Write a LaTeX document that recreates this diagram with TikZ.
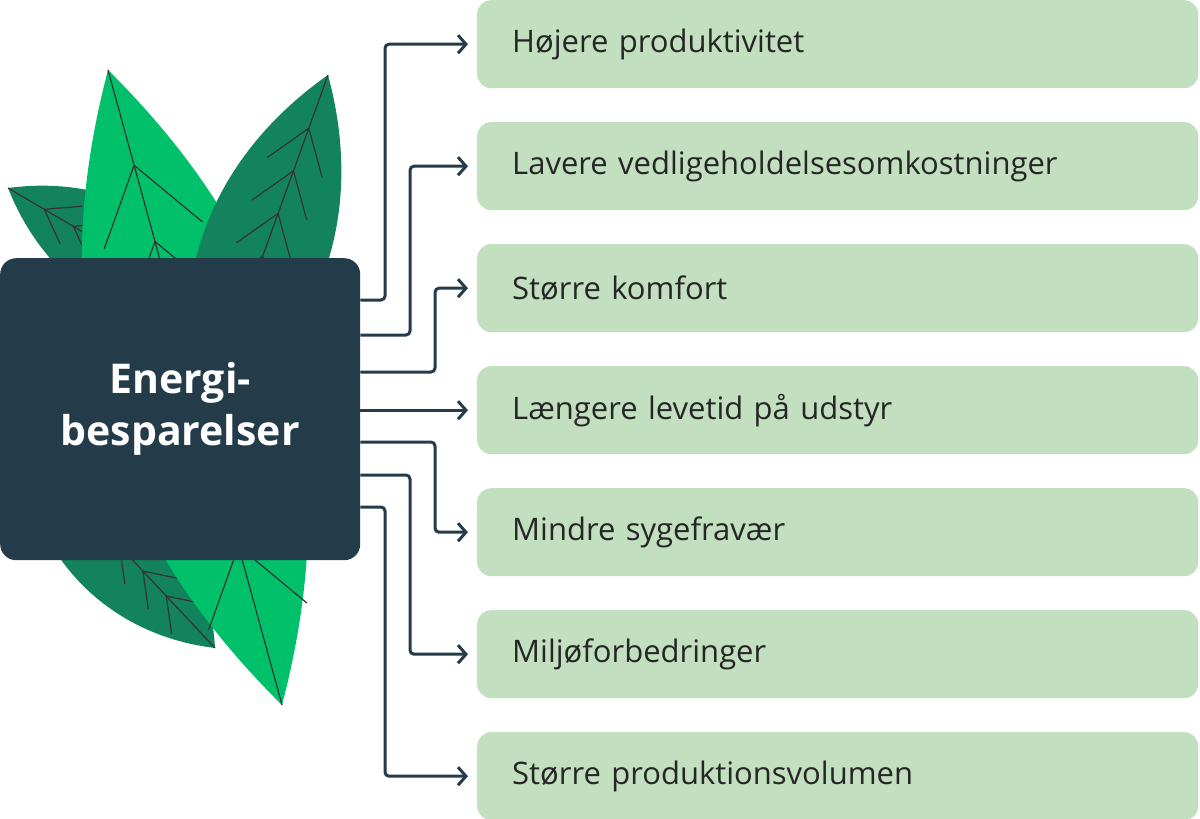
\documentclass[tikz,border=0pt]{standalone}
\usepackage{fontspec}
\setmainfont{Open Sans}
\usetikzlibrary{calc, arrows.meta, positioning}

\definecolor{navy}{HTML}{243B4A}
\definecolor{mint}{HTML}{C2DFBF}
\definecolor{leafdark}{HTML}{13835D}
\definecolor{leafbright}{HTML}{00C16A}

\tikzset{
  benefit/.style={fill=mint, rounded corners=14pt, minimum width=721pt, minimum height=88pt,
    anchor=north west, text=black!85, font=\fontsize{31}{36}\selectfont, inner xsep=35pt,
    text width=651pt, align=left},
  hub/.style={fill=navy, rounded corners=16pt, minimum width=360pt, minimum height=302pt,
    anchor=north west, text=white, font=\fontsize{41}{52}\selectfont\bfseries, align=center},
  link/.style={navy, line width=3pt, rounded corners=4pt, -{Straight Barb[length=8pt, width=18pt]}},
}

% leaf: start, end, colour, bend
\newcommand{\leaf}[4]{%
  \fill[#3] (#1) to[bend left=#4] (#2) to[bend left=#4] (#1);
  \draw[black!80, line width=1.2pt] (#1) -- (#2);
  \foreach \t in {0.15,0.27,...,0.85} {
    \draw[black!80, line width=1.2pt] ($(#1)!\t!(#2)$) -- ($($(#1)!\t!(#2)$)!0.45!35:($(#1)!\t+0.3!(#2)$)$);
    \draw[black!80, line width=1.2pt] ($(#1)!\t!(#2)$) -- ($($(#1)!\t!(#2)$)!0.45!-35:($(#1)!\t+0.3!(#2)$)$);
  }
}

\begin{document}
\begin{tikzpicture}[x=1pt, y=-1pt]
  \useasboundingbox (0,0) rectangle (1200,819);

  % leaves behind the hub
  \coordinate (l1a) at (8,188);   \coordinate (l1b) at (250,330);
  \coordinate (l2a) at (20,440);  \coordinate (l2b) at (215,648);
  \coordinate (l3a) at (108,70);  \coordinate (l3b) at (282,705);
  \coordinate (l4a) at (328,75);  \coordinate (l4b) at (200,430);
  \leaf{l1a}{l1b}{leafdark}{38}
  \leaf{l2a}{l2b}{leafdark}{40}
  \leaf{l3a}{l3b}{leafbright}{30}
  \leaf{l4a}{l4b}{leafdark}{35}

  \node[hub] (hub) at (0,258) {Energi-\\besparelser};

  \node[benefit] (b1) at (477,0)   {Højere produktivitet};
  \node[benefit] (b2) at (477,122) {Lavere vedligeholdelsesomkostninger};
  \node[benefit] (b3) at (477,244) {Større komfort};
  \node[benefit] (b4) at (477,366) {Længere levetid på udstyr};
  \node[benefit] (b5) at (477,488) {Mindre sygefravær};
  \node[benefit] (b6) at (477,610) {Miljøforbedringer};
  \node[benefit] (b7) at (477,732) {Større produktionsvolumen};

  \draw[link] (hub.east |- 0,300) -| ([xshift=-92pt]b1.west) -- ([xshift=-9pt]b1.west);
  \draw[link] (hub.east |- 0,335) -| ([xshift=-67pt]b2.west) -- ([xshift=-9pt]b2.west);
  \draw[link] (hub.east |- 0,372) -| ([xshift=-42pt]b3.west) -- ([xshift=-9pt]b3.west);
  \draw[link] (hub.east |- b4.west) -- ([xshift=-9pt]b4.west);
  \draw[link] (hub.east |- 0,442) -| ([xshift=-42pt]b5.west) -- ([xshift=-9pt]b5.west);
  \draw[link] (hub.east |- 0,475) -| ([xshift=-67pt]b6.west) -- ([xshift=-9pt]b6.west);
  \draw[link] (hub.east |- 0,507) -| ([xshift=-92pt]b7.west) -- ([xshift=-9pt]b7.west);
\end{tikzpicture}
\end{document}
